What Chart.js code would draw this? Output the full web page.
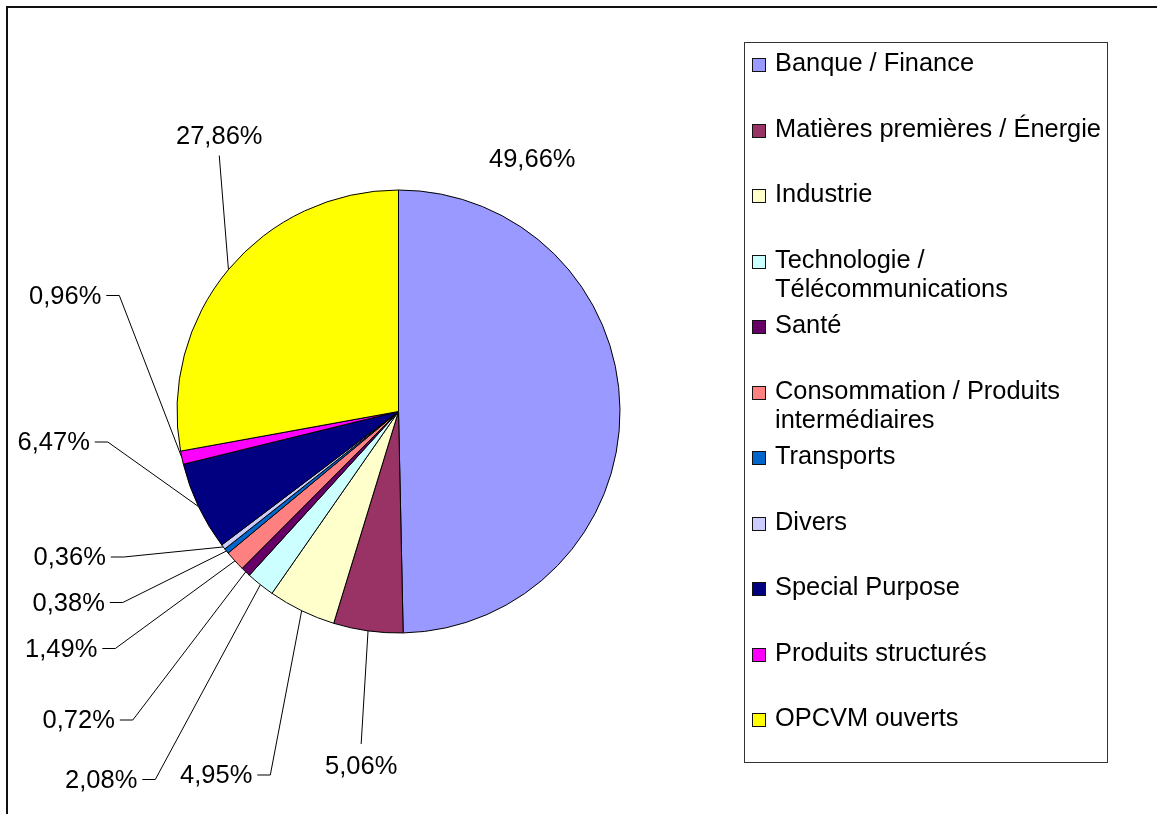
<!DOCTYPE html>
<html lang="fr">
<head>
<meta charset="utf-8">
<title>Répartition sectorielle</title>
<script src="https://cdn.jsdelivr.net/npm/chart.js@4.4.0/dist/chart.umd.min.js"></script>
<style>
  html, body {
    margin: 0;
    padding: 0;
    background: #fff;
  }
  body {
    position: relative;
    width: 1157px;
    height: 814px;
    overflow: hidden;
    font-family: "Liberation Sans", Arial, sans-serif;
  }
  #frame {
    position: absolute;
    left: 6px;
    top: 6px;
    width: 1300px;
    height: 1000px;
    border: 2px solid #111;
  }
  #pie {
    position: absolute;
    left: 0;
    top: 0;
  }
  #legend {
    position: absolute;
    left: 744px;
    top: 42px;
    width: 364px;
    height: 721px;
    box-sizing: border-box;
    border: 1px solid #333;
    background: #fff;
    padding-top: 5px;
  }
  #legend .item {
    position: relative;
    height: 65.5px;
    padding-left: 30px;
    padding-right: 0;
    font-size: 25.4px;
    line-height: 29px;
    color: #000;
  }
  #legend .box {
    position: absolute;
    left: 7px;
    top: 10px;
    width: 12px;
    height: 12px;
    border: 1px solid #111;
  }
</style>
</head>
<body>
<div id="frame"></div>
<canvas id="pie" width="1157" height="814"></canvas>
<div id="legend"></div>

<script>
// secteurs (dans l'ordre du camembert, sens horaire depuis midi)
const categories = [
  'Banque / Finance',
  'Matières premières / Énergie',
  'Industrie',
  'Technologie / Télécommunications',
  'Santé',
  'Consommation / Produits intermédiaires',
  'Transports',
  'Divers',
  'Special Purpose',
  'Produits structurés',
  'OPCVM ouverts'
];

// poids en %
const weights = [49.66, 5.06, 4.95, 2.08, 0.72, 1.49, 0.38, 0.36, 6.47, 0.96, 27.86];

const sliceColors = [
  '#9999FF', '#993366', '#FFFFCC', '#CCFFFF', '#660066', '#FF8080',
  '#0066CC', '#CCCCFF', '#000080', '#FF00FF', '#FFFF00'
];

// placement des étiquettes : x gauche du texte, ligne de base, type de trait de rappel
const labelLayout = [
  { x: 489, y: 166.5, leader: null },
  { x: 325, y: 774, leader: 'up' },
  { x: 180, y: 783, leader: 'stub' },
  { x: 65, y: 787.5, leader: 'stub' },
  { x: 42.5, y: 728, leader: 'stub' },
  { x: 25, y: 656.5, leader: 'stub' },
  { x: 32.5, y: 610.5, leader: 'stub' },
  { x: 33.5, y: 565, leader: 'stub' },
  { x: 17.5, y: 450, leader: 'stub' },
  { x: 29, y: 303.5, leader: 'stub' },
  { x: 176, y: 143.5, leader: 'down' }
];

const fmtPct = v => v.toFixed(2).replace('.', ',') + '%';

// étiquettes de pourcentage + traits de rappel
const pctLabels = {
  id: 'pctLabels',
  afterDraw(chart) {
    const ctx = chart.ctx;
    const arcs = chart.getDatasetMeta(0).data;
    ctx.save();
    ctx.font = '25.5px "Liberation Sans", Arial, sans-serif';
    ctx.fillStyle = '#000';
    ctx.strokeStyle = '#000';
    ctx.lineWidth = 1;
    ctx.textAlign = 'left';
    ctx.textBaseline = 'alphabetic';

    arcs.forEach((arc, i) => {
      const lay = labelLayout[i];
      const txt = fmtPct(weights[i]);
      const w = ctx.measureText(txt).width;
      ctx.fillText(txt, lay.x, lay.y);
      if (!lay.leader) return;

      const p = arc.getProps(['x', 'y', 'startAngle', 'endAngle', 'outerRadius'], true);
      const mid = (p.startAngle + p.endAngle) / 2;
      const ax = p.x + Math.cos(mid) * p.outerRadius;
      const ay = p.y + Math.sin(mid) * p.outerRadius;

      ctx.beginPath();
      if (lay.leader === 'stub') {
        const sx = lay.x + w + 5;
        const sy = lay.y - 8;
        ctx.moveTo(sx, sy);
        ctx.lineTo(sx + 13, sy);
      } else if (lay.leader === 'down') {
        ctx.moveTo(lay.x + w / 2, lay.y + 12);
      } else {
        ctx.moveTo(lay.x + w / 2, lay.y - 30);
      }
      ctx.lineTo(ax, ay);
      ctx.stroke();
    });
    ctx.restore();
  }
};

const chart = new Chart(document.getElementById('pie'), {
  type: 'pie',
  data: {
    labels: categories,
    datasets: [{
      data: weights,
      backgroundColor: sliceColors,
      borderColor: '#000',
      borderWidth: 1
    }]
  },
  options: {
    responsive: false,
    animation: false,
    layout: {
      padding: { left: 176.5, right: 536.5, top: 189.5, bottom: 180.5 }
    },
    plugins: {
      legend: { display: false },
      tooltip: { enabled: false }
    }
  },
  plugins: [pctLabels]
});

// légende à droite, construite depuis les données du graphique
const legendEl = document.getElementById('legend');
categories.forEach((name, i) => {
  const item = document.createElement('div');
  item.className = 'item';
  const box = document.createElement('span');
  box.className = 'box';
  box.style.background = sliceColors[i];
  item.appendChild(box);
  item.appendChild(document.createTextNode(name));
  legendEl.appendChild(item);
});
</script>
</body>
</html>
